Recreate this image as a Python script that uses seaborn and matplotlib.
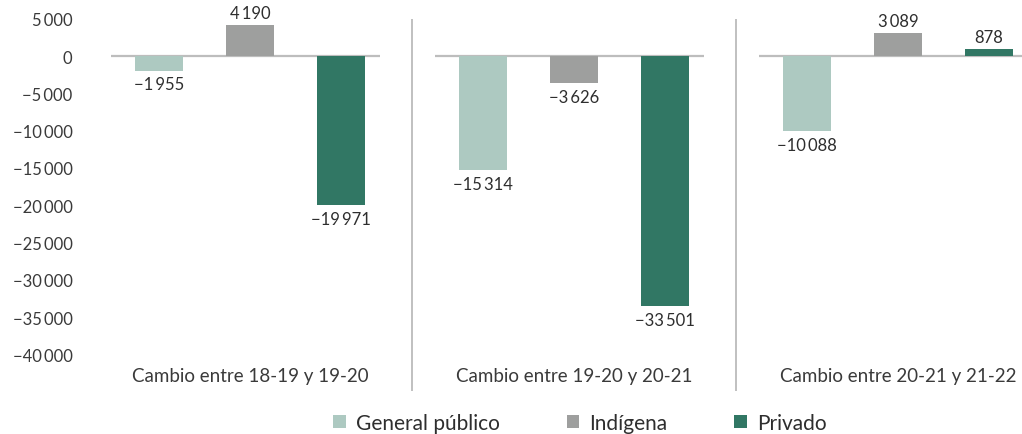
import matplotlib
matplotlib.use("Agg")
import matplotlib.pyplot as plt
from matplotlib.patches import Patch
import seaborn as sns
import pandas as pd

# Data
periodos = ["Cambio entre 18-19 y 19-20", "Cambio entre 19-20 y 20-21", "Cambio entre 20-21 y 21-22"]
tipos = ["General público", "Indígena", "Privado"]
general_publico = [-1955, -15314, -10088]
indigena = [4190, -3626, 3089]
privado = [-19971, -33501, 878]
y_ticks = [5000, 0, -5000, -10000, -15000, -20000, -25000, -30000, -35000, -40000]

colores = ["#adc9c1", "#9e9f9e", "#317764"]
texto = "#2e2e2e"

df = pd.DataFrame({
    "periodo": periodos * 3,
    "tipo": [t for t in tipos for _ in periodos],
    "cambio": general_publico + indigena + privado,
})

sns.set_theme(style="white")
plt.rcParams["font.family"] = ["Lato", "DejaVu Sans"]


def fmt(v):
    s = f"{abs(int(v)):,}".replace(",", "\u2009")
    return ("\u2212" + s) if v < 0 else s


W, H = 1022, 435
fig = plt.figure(figsize=(W / 100, H / 100), dpi=100)
ax_left = 92
ax = fig.add_axes([ax_left / W, 1 - 393 / H, (W - ax_left) / W, 392 / H])

sns.barplot(data=df, x="periodo", y="cambio", hue="tipo", order=periodos,
            hue_order=tipos, palette=colores, width=0.843, gap=0.473,
            saturation=1, linewidth=0, legend=False, ax=ax, zorder=2)

ax.set_xlim((ax_left - 250) / 324, (W - 250) / 324)
ax.set_ylim(-45000, 7500)

# Value labels above positive bars, below negative ones
for cont, tipo in zip(ax.containers, tipos):
    valores = df[df["tipo"] == tipo].set_index("periodo").loc[periodos, "cambio"].tolist()
    for bar, v in zip(cont, valores):
        x = bar.get_x() + bar.get_width() / 2
        if v >= 0:
            ax.annotate(fmt(v), (x, v), xytext=(0, 3), textcoords="offset points",
                        ha="center", va="bottom", fontsize=12, color=texto)
        else:
            ax.annotate(fmt(v), (x, v), xytext=(0, -4), textcoords="offset points",
                        ha="center", va="top", fontsize=12, color=texto)

# Zero baseline for each group
for i in range(len(periodos)):
    ax.hlines(0, i - 0.43, i + 0.40, color="#bdbdbd", lw=1.6, zorder=1)

# Group separators
for xs in [0.5, 1.5]:
    ax.vlines(xs, -44900, 5000, color="#b5b5b5", lw=1.2)

# Group titles
for i, p in enumerate(periodos):
    ax.text(i, -42850, p, ha="center", va="center", fontsize=13.5,
            color="#3a3a3a")

ax.set_xticks([])
ax.set_xlabel("")
ax.set_ylabel("")
ax.set_yticks(y_ticks)
ax.set_yticklabels([fmt(t) for t in y_ticks])
ax.tick_params(axis="y", length=0, pad=14, labelsize=12, labelcolor="#3a3a3a")
for s in ax.spines.values():
    s.set_visible(False)

handles = [Patch(facecolor=c, edgecolor="none", label=t) for c, t in zip(colores, tipos)]
fig.legend(handles=handles, loc="center", bbox_to_anchor=(580 / W, 1 - 424 / H),
           ncol=3, frameon=False, fontsize=15, handlelength=0.6, handleheight=0.6,
           handletextpad=0.5, columnspacing=3.2, labelcolor=texto)

fig.savefig("out.png", dpi=100)
